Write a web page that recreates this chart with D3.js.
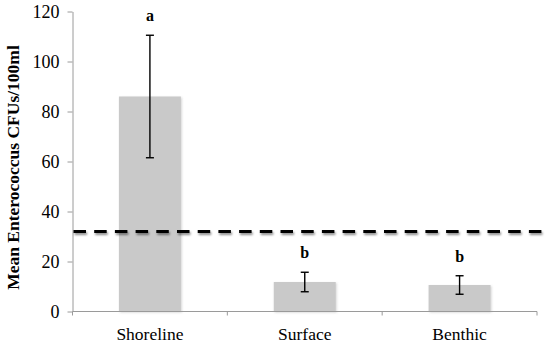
<!DOCTYPE html>
<html>
<head>
<meta charset="utf-8">
<script src="https://cdn.jsdelivr.net/npm/d3@7"></script>
<style>
  html, body { margin: 0; padding: 0; background: #fff; }
  svg { display: block; }
</style>
</head>
<body>
<svg id="chart" width="550" height="348"></svg>
<script>
// Mean Enterococcus counts by sampling site, with standard-error bars
const categories = ["Shoreline", "Surface", "Benthic"];
const means = [86, 11.8, 10.6];
const errors = [24.5, 3.9, 3.7];
const groupLetters = ["a", "b", "b"];
const threshold = 32;
const yTicks = [0, 20, 40, 60, 80, 100, 120];

const serif = '"Liberation Serif", "Times New Roman", serif';
const svg = d3.select("#chart");
const plotLeft = 72.5, plotRight = 537, plotTop = 11.5, plotBottom = 311.5;

const x = d3.scaleBand().domain(categories).range([plotLeft, plotRight])
  .paddingInner(0.6).paddingOuter(0.3);
const xCat = d3.scaleBand().domain(categories).range([plotLeft, plotRight]);
const y = d3.scaleLinear().domain([0, 120]).range([plotBottom, plotTop]);

const defs = svg.append("defs");
const barShadow = defs.append("filter").attr("id", "barShadow")
  .attr("x", "-10%").attr("y", "-10%").attr("width", "130%").attr("height", "130%");
barShadow.append("feDropShadow").attr("dx", 1).attr("dy", 1)
  .attr("stdDeviation", 1).attr("flood-color", "#888").attr("flood-opacity", 0.35);
// a horizontal line has a zero-height bbox, so its filter region is set in user space
const lineShadow = defs.append("filter").attr("id", "lineShadow")
  .attr("filterUnits", "userSpaceOnUse")
  .attr("x", 0).attr("y", 0).attr("width", 550).attr("height", 348);
lineShadow.append("feDropShadow").attr("dx", 1).attr("dy", 2)
  .attr("stdDeviation", 1.3).attr("flood-color", "#000").attr("flood-opacity", 0.45);

// bars
svg.append("g").selectAll("rect").data(categories).join("rect")
  .attr("x", d => x(d))
  .attr("width", x.bandwidth())
  .attr("y", (d, i) => y(means[i]))
  .attr("height", (d, i) => y(0) - y(means[i]))
  .attr("fill", "#c9c9c9")
  .attr("filter", "url(#barShadow)");

// y axis
const yAxis = svg.append("g").attr("transform", `translate(${plotLeft},0)`)
  .call(d3.axisLeft(y).tickValues(yTicks).tickSize(5).tickPadding(8).tickSizeOuter(0));
yAxis.attr("font-family", null);
yAxis.select(".domain").attr("stroke", "#9a9a9a");
yAxis.selectAll(".tick line").attr("stroke", "#9a9a9a");
yAxis.selectAll(".tick text").style("font-size", "18px").style("font-family", serif);

// x axis: baseline with boundary ticks, then category labels
svg.append("line").attr("x1", plotLeft).attr("x2", plotRight)
  .attr("y1", y(0)).attr("y2", y(0)).attr("stroke", "#9a9a9a");
const bounds = categories.map(c => xCat(c)).concat([plotRight]);
svg.append("g").selectAll("line").data(bounds).join("line")
  .attr("x1", d => d).attr("x2", d => d)
  .attr("y1", y(0)).attr("y2", y(0) + 4).attr("stroke", "#9a9a9a");
const xAxis = svg.append("g").attr("transform", `translate(0,${y(0)})`)
  .call(d3.axisBottom(xCat).tickSize(0).tickPadding(16));
xAxis.attr("font-family", null);
xAxis.select(".domain").remove();
xAxis.selectAll(".tick text").style("font-size", "17.5px").style("font-family", serif);

// error bars
const eb = svg.append("g").attr("stroke", "#000").attr("stroke-width", 1.4);
categories.forEach((c, i) => {
  const cx = x(c) + x.bandwidth() / 2;
  const hi = y(means[i] + errors[i]), lo = y(means[i] - errors[i]);
  eb.append("line").attr("x1", cx).attr("x2", cx).attr("y1", hi).attr("y2", lo);
  eb.append("line").attr("x1", cx - 4).attr("x2", cx + 4).attr("y1", hi).attr("y2", hi);
  eb.append("line").attr("x1", cx - 4).attr("x2", cx + 4).attr("y1", lo).attr("y2", lo);
});

// significance group letters
svg.append("g").selectAll("text").data(categories).join("text")
  .attr("x", d => x(d) + x.bandwidth() / 2)
  .attr("y", (d, i) => y(means[i] + errors[i]) - 14)
  .attr("text-anchor", "middle")
  .style("font-family", serif).style("font-size", "16px").style("font-weight", "bold")
  .text((d, i) => groupLetters[i]);

// reference threshold
svg.append("line")
  .attr("x1", plotLeft + 1).attr("x2", 544)
  .attr("y1", y(threshold)).attr("y2", y(threshold))
  .attr("stroke", "#000").attr("stroke-width", 3.2)
  .attr("stroke-dasharray", "12.5 8.2")
  .attr("filter", "url(#lineShadow)");

// y axis title
svg.append("text")
  .attr("transform", `translate(19,${(plotTop + plotBottom) / 2 + 6}) rotate(-90)`)
  .attr("text-anchor", "middle")
  .style("font-family", serif).style("font-size", "17.5px").style("font-weight", "bold")
  .text("Mean Enterococcus CFUs/100ml");
</script>
</body>
</html>
